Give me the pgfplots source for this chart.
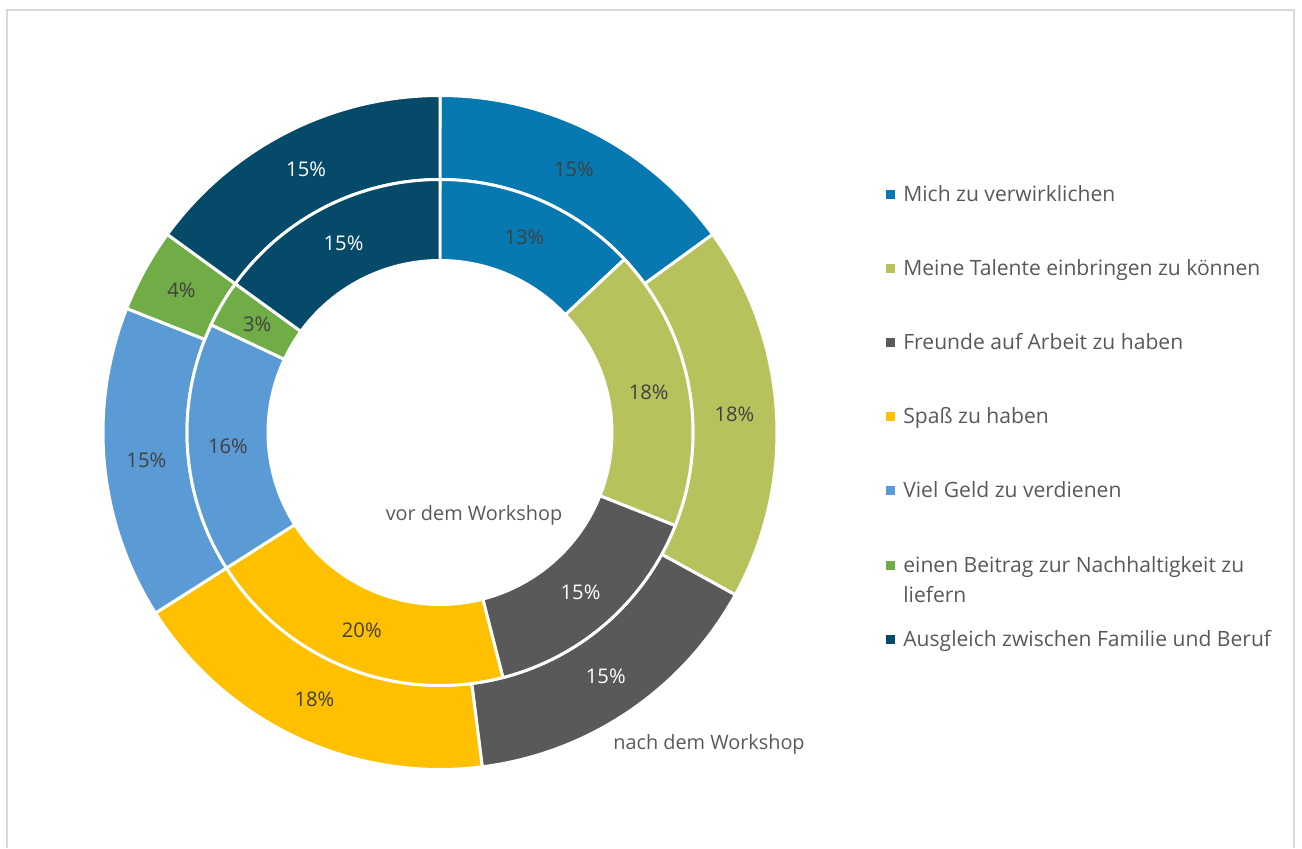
\documentclass[border=0pt]{standalone}
\usepackage{pgfplots}
\pgfplotsset{compat=1.18}
\usepackage{pgfplotstable}
\usepackage{fontspec}
\setmainfont{Open Sans}
\definecolor{c0}{HTML}{0779B0}
\definecolor{c1}{HTML}{B7C25C}
\definecolor{c2}{HTML}{595959}
\definecolor{c3}{HTML}{FFC000}
\definecolor{c4}{HTML}{5B9BD5}
\definecolor{c5}{HTML}{70AD47}
\definecolor{c6}{HTML}{054A68}
\definecolor{txt}{HTML}{595959}
\definecolor{lbl}{HTML}{404040}
\definecolor{framec}{HTML}{D9D9D9}
\colorlet{lab0}{lbl}
\colorlet{lab1}{lbl}
\colorlet{lab2}{white}
\colorlet{lab3}{lbl}
\colorlet{lab4}{lbl}
\colorlet{lab5}{lbl}
\colorlet{lab6}{white}

% nach = outer ring (nach dem Workshop), vor = inner ring (vor dem Workshop)
\pgfplotstableread{
id nach vor
0 15 13
1 18 18
2 15 15
3 18 20
4 15 16
5 4 3
6 15 15
}\donutdata

\def\cx{440}
\def\cy{415.5}
\newcommand\lfont{\fontsize{11.5pt}{13pt}\selectfont}
\newcommand\sfont{\fontsize{11.3pt}{13pt}\selectfont}
\newcommand\gfont{\fontsize{12pt}{14pt}\selectfont}
\newcommand\segment[7]{%
  \fill[#1, draw=white, line width=1.7pt, line join=miter]
    (axis cs:{\cx+#5*cos(#2)},{\cy+#5*sin(#2)})
    arc[start angle=#2, end angle=#3, radius=#5*0.02cm]
    -- (axis cs:{\cx+#4*cos(#3)},{\cy+#4*sin(#3)})
    arc[start angle=#3, end angle=#2, radius=#4*0.02cm] -- cycle;
  \node[text=#7, inner sep=0pt, font=\lfont]
    at (axis cs:{\cx+(#4+#5)/2*cos((#2+#3)/2)},{\cy+(#4+#5)/2*sin((#2+#3)/2)}) {#6\%};
}

\def\segcmds{}
\def\accN{0}\def\accV{0}
\pgfplotsforeachungrouped \i in {0,...,6}{%
  \pgfplotstablegetelem{\i}{nach}\of\donutdata \let\valN\pgfplotsretval
  \pgfplotstablegetelem{\i}{vor}\of\donutdata \let\valV\pgfplotsretval
  \pgfmathsetmacro\aNs{90-3.6*\accN}%
  \pgfmathsetmacro\aNe{90-3.6*(\accN+\valN)}%
  \pgfmathsetmacro\aVs{90-3.6*\accV}%
  \pgfmathsetmacro\aVe{90-3.6*(\accV+\valV)}%
  \xdef\segcmds{\unexpanded\expandafter{\segcmds}%
    \noexpand\segment{c\i}{\aNs}{\aNe}{253}{337}{\valN}{lab\i}%
    \noexpand\segment{c\i}{\aVs}{\aVe}{172}{253}{\valV}{lab\i}}%
  \pgfmathsetmacro\accN{\accN+\valN}%
  \pgfmathsetmacro\accV{\accV+\valV}%
}

\begin{document}
\begin{tikzpicture}
\begin{axis}[
  x=0.02cm, y=0.02cm,
  xmin=0, xmax=1302, ymin=0, ymax=848,
  hide axis, clip=false, scale only axis,
]
\path (axis cs:0,0) rectangle (axis cs:1302,848);
% chart frame
\draw[framec, line width=1.1pt] (axis cs:7,0) -- (axis cs:7,838) -- (axis cs:1294,838) -- (axis cs:1294,0);
\segcmds
\node[text=txt, inner sep=0pt, font=\sfont] at (axis cs:474,333) {vor dem Workshop};
\node[text=txt, inner sep=0pt, font=\sfont] at (axis cs:709,104) {nach dem Workshop};
% legend
\fill[c0] (axis cs:886,{848-199.5}) rectangle (axis cs:895,{848-190.5});
\node[text=txt, inner sep=0pt, anchor=base west, font=\gfont] at (axis cs:903,{848-202}) {Mich zu verwirklichen};
\fill[c1] (axis cs:886,{848-273.5}) rectangle (axis cs:895,{848-264.5});
\node[text=txt, inner sep=0pt, anchor=base west, font=\gfont] at (axis cs:903,{848-276}) {Meine Talente einbringen zu können};
\fill[c2] (axis cs:886,{848-347.5}) rectangle (axis cs:895,{848-338.5});
\node[text=txt, inner sep=0pt, anchor=base west, font=\gfont] at (axis cs:903,{848-350}) {Freunde auf Arbeit zu haben};
\fill[c3] (axis cs:886,{848-421.5}) rectangle (axis cs:895,{848-412.5});
\node[text=txt, inner sep=0pt, anchor=base west, font=\gfont] at (axis cs:903,{848-424}) {Spaß zu haben};
\fill[c4] (axis cs:886,{848-495.5}) rectangle (axis cs:895,{848-486.5});
\node[text=txt, inner sep=0pt, anchor=base west, font=\gfont] at (axis cs:903,{848-498}) {Viel Geld zu verdienen};
\fill[c5] (axis cs:886,{848-570.5}) rectangle (axis cs:895,{848-561.5});
\node[text=txt, inner sep=0pt, anchor=base west, font=\gfont] at (axis cs:903,{848-573}) {einen Beitrag zur Nachhaltigkeit zu};
\node[text=txt, inner sep=0pt, anchor=base west, font=\gfont] at (axis cs:903,{848-603}) {liefern};
\fill[c6] (axis cs:886,{848-644.5}) rectangle (axis cs:895,{848-635.5});
\node[text=txt, inner sep=0pt, anchor=base west, font=\gfont] at (axis cs:903,{848-647}) {Ausgleich zwischen Familie und Beruf};
\end{axis}
\end{tikzpicture}
\end{document}
